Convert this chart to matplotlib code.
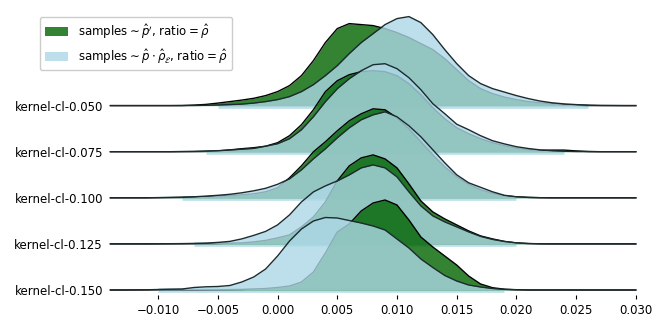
import numpy as np
import matplotlib.pyplot as plt
from matplotlib.patches import Patch

# grid of x values (in units of 1e-3), densities
x_grid = np.arange(-14, 31) / 1000

labels = ["kernel-cl-0.050", "kernel-cl-0.075", "kernel-cl-0.100",
          "kernel-cl-0.125", "kernel-cl-0.150"]

green_050 = [0, 0, 0, 0, 0, 0, 0.1, 0.5, 1.2, 2.5,
             4, 5.5, 7.3, 10, 14, 20, 30, 45, 63, 77,
             82, 81, 80, 77, 73, 68, 62, 56, 47, 36,
             25, 17, 12, 8.5, 6, 4, 2.8, 1.8, 1, 0.4,
             0.1, 0, 0, 0, 0]
blue_050 = [0, 0, 0, 0, 0, 0, 0, 0.1, 0.3, 0.6,
            1, 1.5, 2.5, 4, 6, 9, 14, 21, 30, 40,
            52, 63, 72, 81, 87, 89, 83, 71, 56, 42,
            30, 22, 17, 13.5, 10, 7, 4.5, 2.8, 1.7, 1,
            0.5, 0.2, 0.1, 0, 0]

green_075 = [0, 0, 0, 0, 0, 0, 0, 0, 0.3, 0.8,
             1.8, 3, 4, 5.5, 9, 16, 27, 42, 60, 71,
             77, 80, 81, 80, 76, 68, 57, 44, 33, 24,
             18, 13, 9, 6, 3.5, 2, 1.3, 1.6, 1.6, 0.8,
             0.2, 0, 0, 0, 0]
blue_075 = [0, 0, 0, 0, 0, 0, 0.2, 0.4, 0.7, 1,
            1.7, 2.5, 3.3, 5.5, 8, 13, 22, 35, 50, 63,
            73, 81, 87, 88, 83, 74, 62, 48, 38, 27.5,
            22, 16, 11, 7.8, 5, 3.2, 1.8, 1, 0.5, 0.2,
            0.1, 0, 0, 0, 0]

green_100 = [0, 0, 0, 0, 0.1, 0.2, 0.4, 0.7, 1.1, 1.6,
             2.2, 3, 4, 6, 10, 20, 32, 46, 56, 67,
             77, 84, 89, 88, 80, 69, 56, 43, 31, 21,
             13.5, 8, 4.5, 2, 1, 0.4, 0.1, 0, 0, 0,
             0, 0, 0, 0, 0]
blue_100 = [0, 0, 0, 0, 0.2, 0.4, 0.6, 1, 1.7, 2.5,
            3.5, 5, 7, 9.5, 13.5, 19, 28, 39, 49, 60,
            70, 78, 83, 86, 81, 72, 61, 48, 35, 23,
            15, 10.5, 6, 2.5, 1, 0.4, 0.1, 0, 0, 0,
            0, 0, 0, 0, 0]

green_125 = [0, 0, 0, 0, 0, 0, 0, 0, 0.2, 0.4,
             0.7, 1, 2, 3.5, 6, 9, 17, 27, 42, 63,
             78, 86, 89, 85, 76, 60, 43, 32, 25, 19,
             13, 8, 5, 2.5, 1, 0.3, 0, 0, 0, 0,
             0, 0, 0, 0, 0]
blue_125 = [0, 0, 0, 0, 0.1, 0.2, 0.3, 0.5, 0.8, 1.5,
            2.5, 5, 8.5, 12.5, 19, 29, 42, 52, 58, 63,
            69, 76, 79, 76, 67, 52, 38, 28, 22, 17,
            12, 7.5, 4.5, 2.4, 1, 0.4, 0.1, 0, 0, 0,
            0, 0, 0, 0, 0]

green_150 = [0, 0, 0, 0, 0, 0, 0, 0, 0.1, 0.2,
             0.3, 0.5, 1, 1.5, 2.5, 4, 8, 18, 37, 58,
             66, 79, 87, 90, 85, 70, 53, 43, 34, 25,
             14, 6, 2.3, 0.8, 0.3, 0, 0, 0, 0, 0,
             0, 0, 0, 0, 0]
blue_150 = [0, 0, 0.1, 0.2, 0.5, 0.8, 1, 2.5, 3.2, 3.5,
            4.5, 8, 13, 21, 34, 49, 61, 69, 72.5, 72,
            69.5, 67, 64, 60, 51, 42, 31, 22.5, 14.5, 9,
            5, 3, 1.5, 0.6, 0.2, 0, 0, 0, 0, 0,
            0, 0, 0, 0, 0]

greens = [green_050, green_075, green_100, green_125, green_150]
blues = [blue_050, blue_075, blue_100, blue_125, blue_150]

xtick_vals = [-0.010, -0.005, 0.000, 0.005, 0.010, 0.015, 0.020, 0.025, 0.030]
xtick_labels = ["\u22120.010", "\u22120.005", "0.000", "0.005", "0.010",
                "0.015", "0.020", "0.025", "0.030"]

green_col = "darkgreen"
blue_col = "lightblue"
step = 46.1
fs = 8.5

fig = plt.figure(figsize=(6.64, 3.32), dpi=100)
ax = fig.add_axes([114 / 664, 37 / 332, 523 / 664, 295 / 332])

n = len(labels)
for i in range(n):
    off = (n - 1 - i) * step
    g = np.array(greens[i])
    b = np.array(blues[i])
    z = 10 + i * 10
    # light strip along the baseline where the blue density lives
    sup = b > 0.4
    ax.plot(x_grid[sup], np.full(sup.sum(), off), color=blue_col, alpha=0.8,
            lw=3.4, solid_capstyle="butt", zorder=z, clip_on=False)
    ax.fill_between(x_grid, off, off + g, color=green_col, alpha=0.8, lw=0,
                    zorder=z + 1, clip_on=False)
    ax.plot(x_grid, off + g, color="black", lw=1.0, zorder=z + 2, clip_on=False)
    ax.fill_between(x_grid, off, off + b, color=blue_col, alpha=0.8, lw=0,
                    zorder=z + 3, clip_on=False)
    ax.plot(x_grid, off + b, color="#1c2b2f", lw=1.0, zorder=z + 4, clip_on=False)

ax.set_xlim(-0.0137, 0.0301)
ax.set_ylim(-5, 290)
ax.set_xticks(xtick_vals)
ax.set_xticklabels(xtick_labels, fontsize=fs)
ax.set_yticks([(n - 1 - i) * step for i in range(n)])
ax.set_yticklabels(labels, fontsize=fs)
ax.tick_params(axis="y", length=0, pad=8)
ax.tick_params(axis="x", length=3, width=0.8, pad=3.5)
for s in ax.spines.values():
    s.set_visible(False)

handles = [Patch(facecolor=green_col, alpha=0.8, edgecolor="none"),
           Patch(facecolor=blue_col, alpha=0.8, edgecolor="none")]
leg_labels = [r"samples$\sim\hat{p}'$, ratio$=\hat{\rho}$",
              r"samples$\sim\hat{p}\cdot\hat{\rho}_{\mathcal{E}}$, ratio$=\hat{\rho}$"]
fig.legend(handles, leg_labels, loc="upper left",
           bbox_to_anchor=(40 / 664, 1 - 17 / 332), borderaxespad=0,
           fontsize=fs, framealpha=1)

fig.savefig("out.png", dpi=100)
